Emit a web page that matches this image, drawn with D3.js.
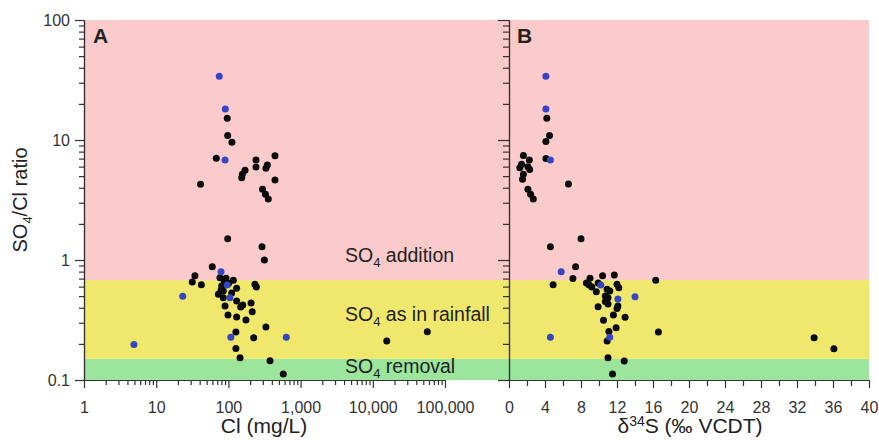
<!DOCTYPE html>
<html lang="en">
<head>
<meta charset="UTF-8">
<title>SO4/Cl ratio</title>
<script src="https://cdn.jsdelivr.net/npm/d3@7"></script>
<style>
  body { margin: 0; background: #fff; }
  svg text { font-family: "Liberation Sans", Arial, sans-serif; fill: #222; }
  .axis path, .axis line { stroke: #333; stroke-width: 1.2; }
  .axis text { font-size: 16px; fill: #333; font-family: "Liberation Sans", Arial, sans-serif; }
</style>
</head>
<body>
<div id="grafica"></div>
<script>
// --- data ---
// panel A: Cl (mg/L) vs SO4/Cl ratio
var clBlack = [96.4, 97.8, 112, 68, 241, 241, 442, 346, 331, 170, 156, 153, 442, 41.1, 297, 326, 357,
  97.8, 292, 315, 59.8, 34.4, 31.6, 42.2, 76.4, 92.7, 117, 80.7, 130, 85, 72.6, 85, 130, 158, 206,
  233, 244, 89.8, 148, 98.7, 130, 175, 331, 127, 224, 127, 145, 377, 576, 15600, 56900, 214,
  101, 88, 111, 79]
var ratioBlack = [15.2, 10.9, 9.6, 7.04, 6.81, 5.96, 7.40, 6.19, 5.81, 5.59, 5.18, 4.85, 4.64, 4.28, 3.88, 3.53, 3.22,
  1.50, 1.29, 1.0, 0.88, 0.74, 0.656, 0.623, 0.712, 0.704, 0.677, 0.607, 0.581, 0.552, 0.518, 0.485, 0.455, 0.422, 0.438,
  0.627, 0.596, 0.414, 0.406, 0.348, 0.335, 0.316, 0.276, 0.251, 0.225, 0.183, 0.153, 0.145, 0.112, 0.211, 0.253, 0.371,
  0.64, 0.66, 0.53, 0.56]
var clBlue    = [74.8, 90.6, 89.8, 79, 96.4, 105, 23.3, 4.92, 108, 634]
var ratioBlue = [34, 18.1, 6.81, 0.80, 0.619, 0.485, 0.498, 0.198, 0.227, 0.227]

// panel B: d34S (permil VCDT) vs SO4/Cl ratio
var sBlack = [4.2, 4.5, 4.1, 4.1, 6.6, 1.6, 2.26, 1.4, 1.2, 2.3, 2.1, 1.6, 1.5, 2.1, 2.4, 2.7,
  8.0, 4.6, 7.4, 7.1, 4.9, 16.3, 9.0, 10.4, 11.7, 8.6, 8.9, 9.2, 9.9, 9.7, 10.9, 11.2, 12.0, 12.2,
  10.7, 11.0, 10.7, 11.0, 12.1, 12.0, 9.9, 11.6, 12.9, 10.5, 11.9, 11.1, 16.6, 10.9, 33.9, 36.1,
  11.0, 12.8, 11.5]
var ratioBlackB = [15.2, 10.9, 9.7, 7.0, 4.29, 7.44, 6.81, 6.28, 5.87, 5.69, 5.98, 5.18, 4.70, 3.88, 3.53, 3.22,
  1.50, 1.29, 0.88, 0.70, 0.623, 0.677, 0.704, 0.74, 0.75, 0.643, 0.619, 0.596, 0.643, 0.545, 0.570, 0.552, 0.627, 0.588,
  0.501, 0.485, 0.45, 0.43, 0.414, 0.395, 0.408, 0.348, 0.333, 0.314, 0.273, 0.254, 0.251, 0.211, 0.225, 0.182,
  0.153, 0.144, 0.112]
var sBlue      = [4.1, 4.1, 4.6, 5.8, 10.2, 12.1, 14.0, 11.2, 4.6]
var ratioBlueB = [34, 18.1, 6.81, 0.80, 0.619, 0.473, 0.494, 0.227, 0.227]

// background zones
var zoneLow  = [0.1, 0.15, 0.68]
var zoneHigh = [0.15, 0.68, 100]
var zoneColor = ['#9be59c', '#efe86c', '#fbcaca']

var yTicks = [0.1, 1, 10, 100]
var xTicksA = [1, 10, 100, 1000, 10000, 100000]
var xTicksB = [0, 4, 8, 12, 16, 20, 24, 28, 32, 36, 40]

// --- layout ---
var ancho = 879, alto = 440
var mLeft = 84, mMid = 509, mRight = 869, mTop = 20, mBottom = 380

var svg = d3.select('#grafica').append('svg')
  .attr('width', ancho).attr('height', alto)

var y = d3.scaleLog().domain([0.1, 100]).range([mBottom, mTop])
var xA = d3.scaleLog().domain([1, 100000]).range([mLeft, mLeft + 5 * 72.2])
var xB = d3.scaleLinear().domain([0, 40]).range([mMid, mRight])

// zones
svg.selectAll('rect.zone')
  .data(zoneLow)
  .enter().append('rect')
  .attr('x', mLeft)
  .attr('width', mRight - mLeft)
  .attr('y', (d, i) => y(zoneHigh[i]))
  .attr('height', (d, i) => y(d) - y(zoneHigh[i]))
  .attr('fill', (d, i) => zoneColor[i])

// minor tick values
function logMinor(lo, hi) {
  var out = []
  for (var p = lo; p < hi * 0.99; p *= 10)
    for (var k = 2; k <= 9; k++) out.push(p * k)
  return out
}
var yMinor = logMinor(0.1, 100)

// y axes
svg.append('g').attr('class', 'axis')
  .attr('transform', 'translate(' + mLeft + ',0)')
  .call(d3.axisLeft(y).tickValues(yMinor).tickSize(5).tickSizeOuter(0).tickFormat(''))
svg.append('g').attr('class', 'axis')
  .attr('transform', 'translate(' + mLeft + ',0)')
  .call(d3.axisLeft(y).tickValues(yTicks).tickSize(9).tickSizeOuter(0).tickFormat(d3.format('')))
  .call(g => g.selectAll('text').attr('dx', '-2'))

svg.append('g').attr('class', 'axis')
  .attr('transform', 'translate(' + mMid + ',0)')
  .call(d3.axisLeft(y).tickValues(yMinor).tickSize(6).tickSizeOuter(0).tickFormat(''))
svg.append('g').attr('class', 'axis')
  .attr('transform', 'translate(' + mMid + ',0)')
  .call(d3.axisLeft(y).tickValues(yTicks).tickSize(11).tickSizeOuter(0).tickFormat(''))

// x axis A
svg.append('g').attr('class', 'axis')
  .attr('transform', 'translate(0,' + mBottom + ')')
  .call(d3.axisBottom(xA).tickValues(logMinor(1, 100000)).tickSize(5).tickSizeOuter(0).tickFormat(''))
svg.append('g').attr('class', 'axis')
  .attr('transform', 'translate(0,' + mBottom + ')')
  .call(d3.axisBottom(xA).tickValues(xTicksA).tickSize(8).tickSizeOuter(0).tickFormat(d3.format(',')))
  .call(g => g.selectAll('text').attr('dy', '1.35em'))

// x axis B
svg.append('g').attr('class', 'axis')
  .attr('transform', 'translate(0,' + mBottom + ')')
  .call(d3.axisBottom(xB).tickValues(d3.range(2, 40, 4)).tickSize(6).tickSizeOuter(0).tickFormat(''))
svg.append('g').attr('class', 'axis')
  .attr('transform', 'translate(0,' + mBottom + ')')
  .call(d3.axisBottom(xB).tickValues(xTicksB).tickSize(8).tickSizeOuter(0).tickFormat(d3.format('')))
  .call(g => g.selectAll('text').attr('dy', '1.35em'))

// points
function dots(xs, ys, sx, color) {
  svg.append('g').selectAll('circle')
    .data(xs)
    .enter().append('circle')
    .attr('cx', d => sx(d))
    .attr('cy', (d, i) => y(ys[i]))
    .attr('r', 3.5)
    .attr('fill', color)
}
dots(clBlack, ratioBlack, xA, '#0a0a0a')
dots(clBlue, ratioBlue, xA, '#3545c4')
dots(sBlack, ratioBlackB, xB, '#0a0a0a')
dots(sBlue, ratioBlueB, xB, '#3545c4')

// panel letters
svg.append('text').attr('x', mLeft + 9).attr('y', 43)
  .attr('font-size', 21).attr('font-weight', 'bold').text('A')
svg.append('text').attr('x', mMid + 8).attr('y', 43)
  .attr('font-size', 21).attr('font-weight', 'bold').text('B')

// zone labels
function so4(x, yy, rest) {
  var t = svg.append('text').attr('x', x).attr('y', yy).attr('font-size', 19.5)
  t.append('tspan').text('SO')
  t.append('tspan').attr('font-size', 13).attr('dy', 5).text('4')
  t.append('tspan').attr('dy', -5).text(' ' + rest)
}
so4(345, 262, 'addition')
so4(345, 321, 'as in rainfall')
so4(345, 373, 'removal')

// axis titles
svg.append('text').attr('x', 264).attr('y', 433)
  .attr('text-anchor', 'middle').attr('font-size', 21).text('Cl (mg/L)')

var tb = svg.append('text').attr('x', 690).attr('y', 433)
  .attr('text-anchor', 'middle').attr('font-size', 21)
tb.append('tspan').text('δ')
tb.append('tspan').attr('font-size', 14).attr('dy', -7).text('34')
tb.append('tspan').attr('dy', 7).text('S (‰ VCDT)')

var ty = svg.append('text')
  .attr('transform', 'translate(27,200) rotate(-90)')
  .attr('text-anchor', 'middle').attr('font-size', 20)
ty.append('tspan').text('SO')
ty.append('tspan').attr('font-size', 13).attr('dy', 5).text('4')
ty.append('tspan').attr('dy', -5).text('/Cl ratio')
</script>
</body>
</html>
